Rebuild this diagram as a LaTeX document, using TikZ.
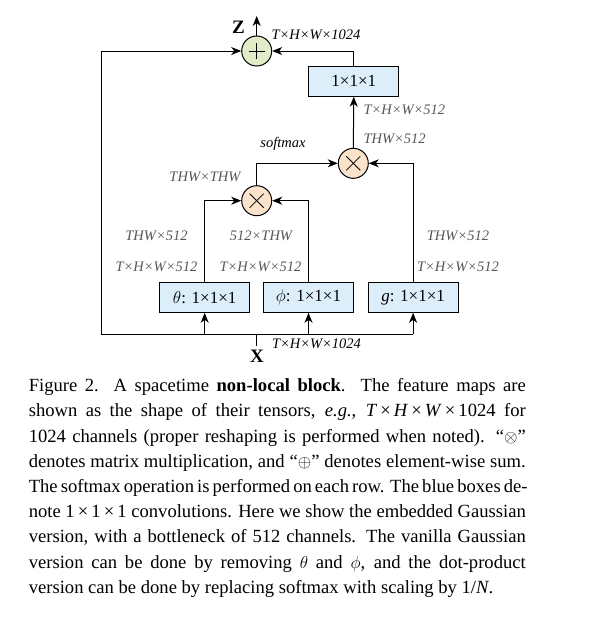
\documentclass[tikz,border=0pt]{standalone}
\usepackage{fontspec}
\setmainfont{Liberation Serif}
\usetikzlibrary{arrows.meta}
\definecolor{convblue}{HTML}{DCEEFA}
\definecolor{plusgreen}{HTML}{E2ECC9}
\definecolor{mulpeach}{HTML}{FBE3CB}
\definecolor{dimgray}{HTML}{555555}
\newcommand\myfs[2]{\fontsize{#1}{#2}\selectfont}
\newcommand\capline[1]{\hbox to 497pt{#1}}
\tikzset{
  arr/.style={-{Stealth[length=10pt,width=8pt,inset=3pt]}},
  conv/.style={draw, fill=convblue, minimum width=90pt, minimum height=30pt, inner sep=0pt, font=\myfs{17}{17}},
  op/.style={circle, draw, minimum size=30pt, inner sep=0pt},
  dim/.style={font=\myfs{14.5}{14.5}\itshape, text=dimgray, inner sep=0pt},
  dimk/.style={font=\myfs{14.5}{14.5}\itshape, text=black, inner sep=0pt},
}
\begin{document}
\begin{tikzpicture}[x=1pt,y=1pt,line width=1pt]
\useasboundingbox (0,0) rectangle (590,-619);
% operators
\node[op, fill=plusgreen] (plus) at (256.7,-51) {};
\draw[line width=0.8pt] ([xshift=-8pt]plus.center) -- ([xshift=8pt]plus.center)
  ([yshift=-8pt]plus.center) -- ([yshift=8pt]plus.center);
\node[op, fill=mulpeach] (mul2) at (353.3,-163.3) {};
\node[op, fill=mulpeach] (mul1) at (256.7,-200.7) {};
\foreach \m in {mul1,mul2}{
  \draw[line width=0.8pt] ([shift={(-7pt,-7pt)}]\m.center) -- ([shift={(7pt,7pt)}]\m.center)
    ([shift={(-7pt,7pt)}]\m.center) -- ([shift={(7pt,-7pt)}]\m.center);
}
% boxes
\node[conv] (convout) at (353.8,-81.2) {1×1×1};
\node[conv] (theta) at (204.7,-297.3) {$\theta$: 1×1×1};
\node[conv] (phi) at (308.5,-297.3) {$\phi$: 1×1×1};
\node[conv] (g) at (413.1,-297.3) {\textit{g}: 1×1×1};
% coordinates
\coordinate (zout) at (256.7,-16);
\coordinate (busL) at (101,-334);
\coordinate (busR) at (413.1,-334);
\coordinate (xin) at (256.7,-346);
\coordinate (xbus) at (256.7,-334);
% labels
\node[font=\myfs{19}{19}\bfseries, inner sep=0pt] (zlab) at (238.5,-27.5) {Z};
\node[font=\myfs{19}{19}\bfseries, inner sep=0pt] (xlab) at (257,-356) {X};
\node[dimk] (l1024t) at (316,-35) {T×H×W×1024};
\node[dimk] (l1024b) at (316.5,-343.5) {T×H×W×1024};
\node[dim, anchor=west] (lo512) at (363,-110) {T×H×W×512};
\node[dim, anchor=west] (lo512b) at (363,-139) {THW×512};
\node[font=\myfs{14.5}{14.5}\itshape, inner sep=0pt] (smax) at (283,-144) {softmax};
\node[dim] (lthw) at (205,-177) {THW×THW};
\node[dim] (la1) at (156.5,-236) {THW×512};
\node[dim] (la2) at (156.5,-267) {T×H×W×512};
\node[dim] (lb1) at (261,-236) {512×THW};
\node[dim] (lb2) at (260.5,-267) {T×H×W×512};
\node[dim] (lc1) at (458,-236) {THW×512};
\node[dim] (lc2) at (458,-267) {T×H×W×512};
% connectors
\draw (xin) -- (xbus);
\draw (busL) -- (busR);
\draw[arr] (theta.south |- busL) -- (theta.south);
\draw[arr] (phi.south |- busL) -- (phi.south);
\draw[arr] (busR) -- (g.south);
\draw[arr] (busL) |- (plus.west);
\draw[arr] (convout.north) |- (plus.east);
\draw[arr] (plus.north) -- (zout);
\draw[arr] (mul2.north) -- (convout.south);
\draw[arr] (mul1.north) |- (mul2.west);
\draw[arr] (g.north) |- (mul2.east);
\draw[arr] (theta.north) |- (mul1.west);
\draw[arr] (phi.north) |- (mul1.east);
% caption
\node[anchor=base west, inner sep=0pt] (caption) at (28.3,-391.7) {\parbox[t]{497pt}{\myfs{18.6}{25.2}%
\capline{Figure 2. A spacetime \textbf{non-local block}.\ \ The feature maps are}
\capline{shown as the shape of their tensors, \textit{e.g.}, \textit{T}\,×\,\textit{H}\,×\,\textit{W}\,×\,1024 for}
\capline{1024 channels (proper reshaping is performed when noted). “$\otimes$”}
\capline{denotes matrix multiplication, and “$\oplus$” denotes element-wise sum.}
\capline{The softmax operation is performed on each row. The blue boxes de-}
\capline{note 1\,×\,1\,×\,1 convolutions. Here we show the embedded Gaussian}
\capline{version, with a bottleneck of 512 channels. The vanilla Gaussian}
\capline{version can be done by removing $\theta$ and $\phi$, and the dot-product}
\hbox{version can be done by replacing softmax with scaling by 1/\textit{N}.}}};
\end{tikzpicture}
\end{document}
